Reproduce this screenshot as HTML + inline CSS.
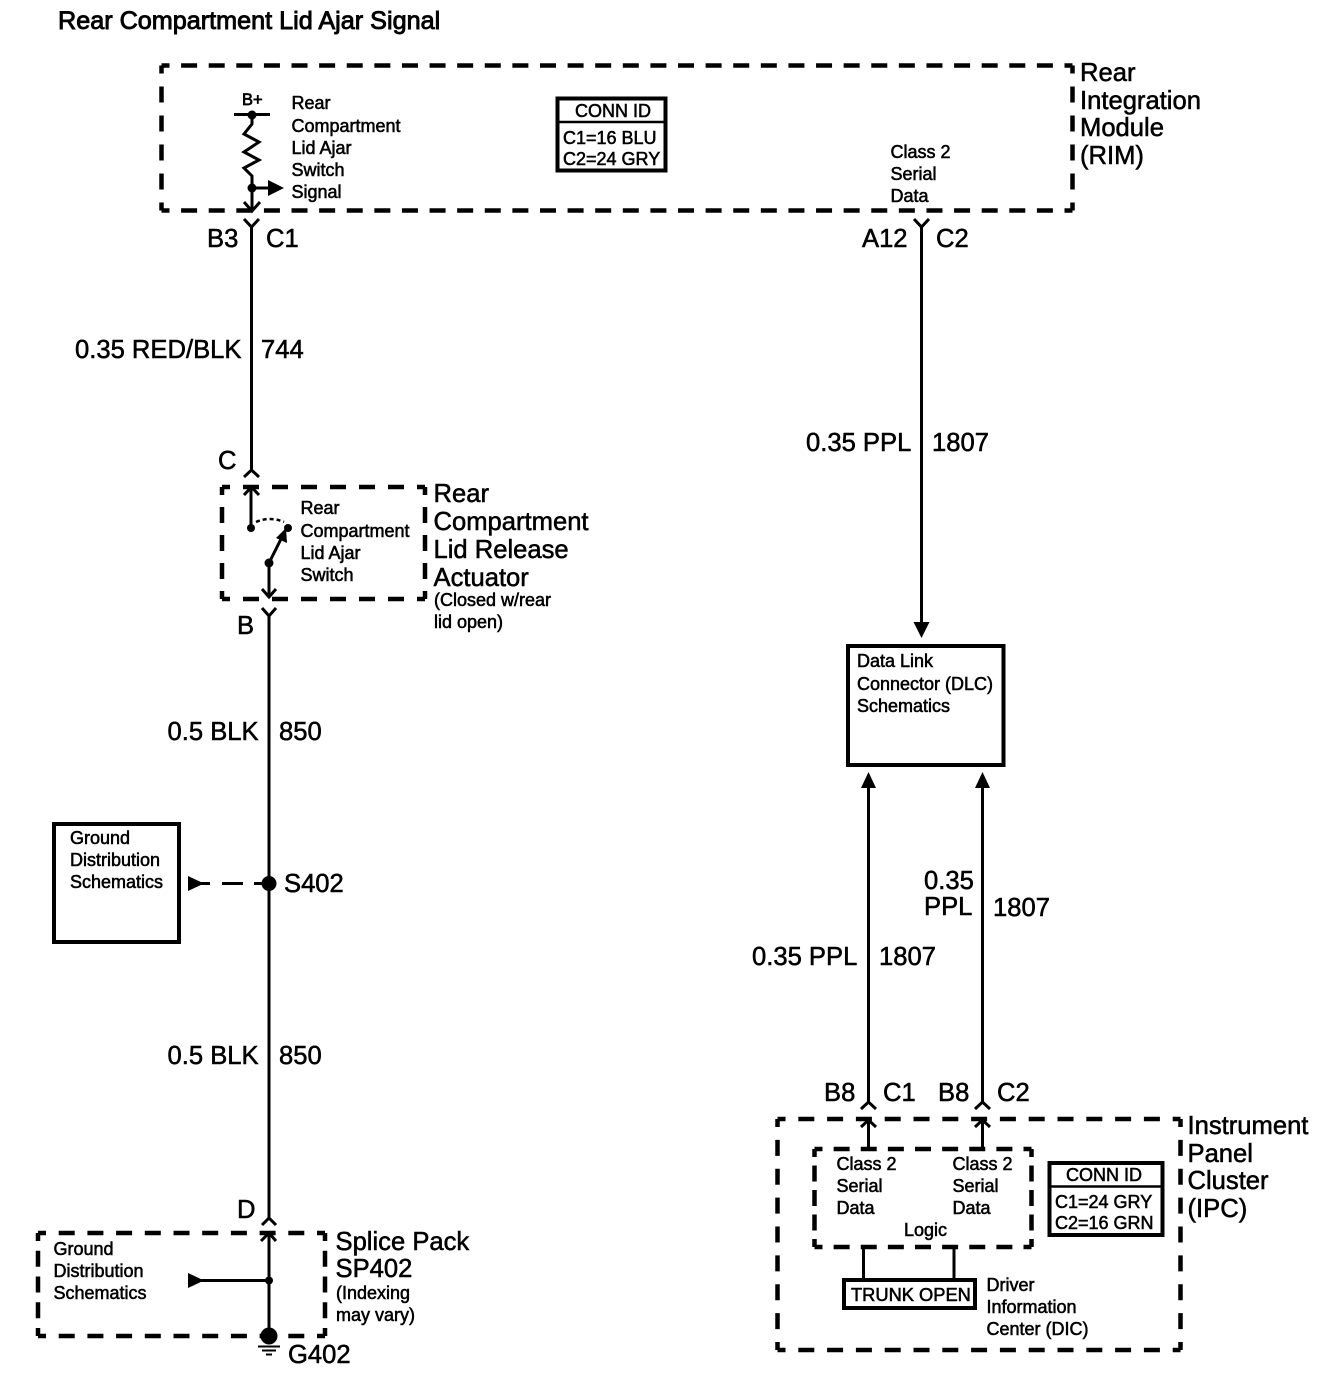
<!DOCTYPE html>
<html><head><meta charset="utf-8"><style>
html,body{margin:0;padding:0;background:#fff}
svg{display:block}
text{font-family:"Liberation Sans",sans-serif;fill:#000;stroke:#000;stroke-width:.55px}
.s{font-size:18px}.l{font-size:25.6px}
.w{fill:none;stroke:#000;stroke-width:3}
.d path{fill:none;stroke:#000;stroke-width:4.5;stroke-dashoffset:8}
.b{fill:none;stroke:#000;stroke-width:4}
.c{fill:none;stroke:#000;stroke-width:3}
</style></head><body>
<svg width="1324" height="1392" viewBox="0 0 1324 1392" xmlns="http://www.w3.org/2000/svg">
<text class="l" x="58" y="29" style="stroke-width:.9px;font-size:25.2px">Rear Compartment Lid Ajar Signal</text>

<!-- RIM -->
<g class="d">
<path d="M161.500 65.500H1072.500M161.500 210.500H1072.500" stroke-dasharray="16 11.606"/>
<path d="M161.500 65.500V210.500M1072.500 65.500V210.500" stroke-dasharray="16 13"/>
</g>
<text class="l" x="1080" y="81">Rear</text><text class="l" x="1080" y="109">Integration</text><text class="l" x="1080" y="136">Module</text><text class="l" x="1080" y="164">(RIM)</text>
<text x="242" y="105" style="font-size:16.500px;stroke-width:.7px">B+</text>
<path class="w" d="M234 114.500H270"/><circle cx="252" cy="115" r="4.500"/>
<path class="w" d="M252 115V124L244 134L259 142L244 152L259 160L244 168L252 176V210"/>
<circle cx="252" cy="188" r="4.500"/><path class="w" d="M252 188H272"/><path d="M268 180L284 188L268 196Z"/>
<path class="c" d="M244 202L252 211L260 202"/>
<text class="s" x="291.500" y="109">Rear</text><text class="s" x="291.500" y="132">Compartment</text><text class="s" x="291.500" y="154">Lid Ajar</text><text class="s" x="291.500" y="176">Switch</text><text class="s" x="291.500" y="198">Signal</text>
<rect class="b" x="557.500" y="98.500" width="108" height="72"/><path class="b" d="M557 122H666" style="stroke-width:2.500"/>
<text class="s" x="575" y="117">CONN ID</text><text class="s" x="563" y="144">C1=16 BLU</text><text class="s" x="563" y="165">C2=24 GRY</text>
<text class="s" x="890.500" y="158">Class 2</text><text class="s" x="890.500" y="180">Serial</text><text class="s" x="890.500" y="202">Data</text>

<!-- Left wire top -->
<path class="c" d="M244 219L251.500 227L259 219"/><path class="w" d="M251.500 226V470"/>
<text class="l" x="207" y="247">B3</text><text class="l" x="266" y="247">C1</text>
<text class="l" x="75" y="358">0.35 RED/BLK</text><text class="l" x="261" y="358">744</text>
<text class="l" x="218" y="469">C</text>
<path class="c" d="M244 477L251.500 470L259 477"/>

<!-- Actuator -->
<g class="d">
<path d="M222 487H425M222 599H425" stroke-dasharray="16 13"/>
<path d="M222 487V599M425 487V599" stroke-dasharray="16 12"/>
</g>
<path class="c" d="M244 495L251.500 487L259 495"/><path class="w" d="M251 488V527"/>
<circle cx="251" cy="528" r="4"/><circle cx="288" cy="528" r="4"/>
<path d="M256 522Q270 516 284 522" fill="none" stroke="#000" stroke-width="2.500" stroke-dasharray="4 3"/>
<circle cx="269" cy="563" r="4.500"/><path class="w" d="M269 563L285 531"/><path d="M286 528L287 543L276 538Z"/>
<path class="w" d="M269 563V596"/><path class="c" d="M262 589L269 597L276 589"/>
<text class="s" x="300.500" y="514">Rear</text><text class="s" x="300.500" y="537">Compartment</text><text class="s" x="300.500" y="559">Lid Ajar</text><text class="s" x="300.500" y="581">Switch</text>
<text class="l" x="433.500" y="502">Rear</text><text class="l" x="433.500" y="530">Compartment</text><text class="l" x="433.500" y="558">Lid Release</text><text class="l" x="433.500" y="586">Actuator</text>
<text class="s" x="434" y="606">(Closed w/rear</text><text class="s" x="434" y="628">lid open)</text>

<!-- Left wire lower -->
<path class="c" d="M262 608L269 616L276 608"/><path class="w" d="M269 615V1219"/>
<text class="l" x="237" y="634">B</text>
<text class="l" x="167.500" y="740">0.5 BLK</text><text class="l" x="279" y="740">850</text>
<rect class="b" x="54" y="824" width="125" height="118"/>
<text class="s" x="70" y="844">Ground</text><text class="s" x="70" y="866">Distribution</text><text class="s" x="70" y="888">Schematics</text>
<path d="M188 876L204 883.500L188 891Z"/><path class="w" d="M200 883.500H210M222 883.500H243M254 883.500H269"/>
<circle cx="269" cy="883.500" r="7.500"/><text class="l" x="284" y="892">S402</text>
<text class="l" x="167.500" y="1064">0.5 BLK</text><text class="l" x="279" y="1064">850</text>
<text class="l" x="237" y="1218">D</text>
<path class="c" d="M262 1225L269 1218L276 1225"/>

<!-- Splice pack -->
<g class="d">
<path d="M38 1233H325M38 1336H325" stroke-dasharray="16 12.700"/>
<path d="M38 1233V1336M325 1233V1336" stroke-dasharray="16 9.750"/>
</g>
<path class="c" d="M261 1241L269 1233L276 1241"/><path class="w" d="M269 1234V1336"/>
<circle cx="269" cy="1280.500" r="4"/><path class="w" d="M200 1280.500H269"/><path d="M188 1273L204 1280.500L188 1288Z"/>
<text class="s" x="53.500" y="1255">Ground</text><text class="s" x="53.500" y="1277">Distribution</text><text class="s" x="53.500" y="1299">Schematics</text>
<circle cx="269" cy="1336" r="8.500"/>
<path class="c" d="M258 1346.500H280M262 1350.500H276M266 1354.500H272" style="stroke-width:2"/>
<text class="l" x="288" y="1363">G402</text>
<text class="l" x="335.500" y="1250">Splice Pack</text><text class="l" x="335.500" y="1277">SP402</text>
<text class="s" x="336" y="1299">(Indexing</text><text class="s" x="336" y="1321">may vary)</text>

<!-- Right wire top -->
<path class="c" d="M914 219L921.500 227L929 219"/><path class="w" d="M921.500 226V625"/><path d="M913.500 622H929.500L921.500 638Z"/>
<text class="l" x="862" y="247">A12</text><text class="l" x="936" y="247">C2</text>
<text class="l" x="806" y="451">0.35 PPL</text><text class="l" x="932" y="451">1807</text>

<!-- DLC -->
<rect class="b" x="848" y="646" width="155.500" height="119"/>
<text class="s" x="857" y="667">Data Link</text><text class="s" x="857" y="690">Connector (DLC)</text><text class="s" x="857" y="712">Schematics</text>

<!-- Wires to DLC -->
<path class="w" d="M868.500 785V1104M982.500 785V1104"/>
<path d="M861 788H876L868.500 772ZM975 788H990L982.500 772Z"/>
<text class="l" x="752" y="965">0.35 PPL</text><text class="l" x="879" y="965">1807</text>
<text class="l" x="924" y="889">0.35</text><text class="l" x="924" y="915">PPL</text><text class="l" x="993" y="916">1807</text>
<text class="l" x="824" y="1101">B8</text><text class="l" x="883" y="1101">C1</text><text class="l" x="938" y="1101">B8</text><text class="l" x="997" y="1101">C2</text>
<path class="c" d="M861 1109L868.500 1102L876 1109M975 1109L982.500 1102L990 1109"/>

<!-- IPC -->
<g class="d">
<path d="M777.500 1119H1180.500M777.500 1350H1180.500" stroke-dasharray="16 12.800"/>
<path d="M777.500 1119V1350M1180.500 1119V1350" stroke-dasharray="16 12.875"/>
</g>
<path class="c" d="M861 1127L868.500 1120L876 1127M975 1127L982.500 1120L990 1127"/>
<path class="w" d="M868.500 1121V1148M982.500 1121V1148"/>
<g class="d">
<path d="M814.500 1149H1031.500M814.500 1247H1031.500" stroke-dasharray="16 11.125"/>
<path d="M814.500 1149V1247M1031.500 1149V1247" stroke-dasharray="16 8.500"/>
</g>
<text class="s" x="836.500" y="1170">Class 2</text><text class="s" x="836.500" y="1192">Serial</text><text class="s" x="836.500" y="1214">Data</text>
<text class="s" x="952.500" y="1170">Class 2</text><text class="s" x="952.500" y="1192">Serial</text><text class="s" x="952.500" y="1214">Data</text>
<text class="s" x="904" y="1236">Logic</text>
<path class="w" d="M863.500 1248V1279M954 1248V1279"/>
<rect class="b" x="844" y="1280" width="131" height="28"/>
<text x="851" y="1301" style="font-size:18.300px">TRUNK OPEN</text>
<text class="s" x="986.500" y="1291">Driver</text><text class="s" x="986.500" y="1313">Information</text><text class="s" x="986.500" y="1335">Center (DIC)</text>
<rect class="b" x="1049.500" y="1163" width="113" height="72"/><path class="b" d="M1049 1186.500H1163" style="stroke-width:2.500"/>
<text class="s" x="1066" y="1181">CONN ID</text><text class="s" x="1055" y="1208">C1=24 GRY</text><text class="s" x="1055" y="1229">C2=16 GRN</text>
<text class="l" x="1187.500" y="1134">Instrument</text><text class="l" x="1187.500" y="1162">Panel</text><text class="l" x="1187.500" y="1189">Cluster</text><text class="l" x="1187.500" y="1217">(IPC)</text>
</svg>
</body></html>
